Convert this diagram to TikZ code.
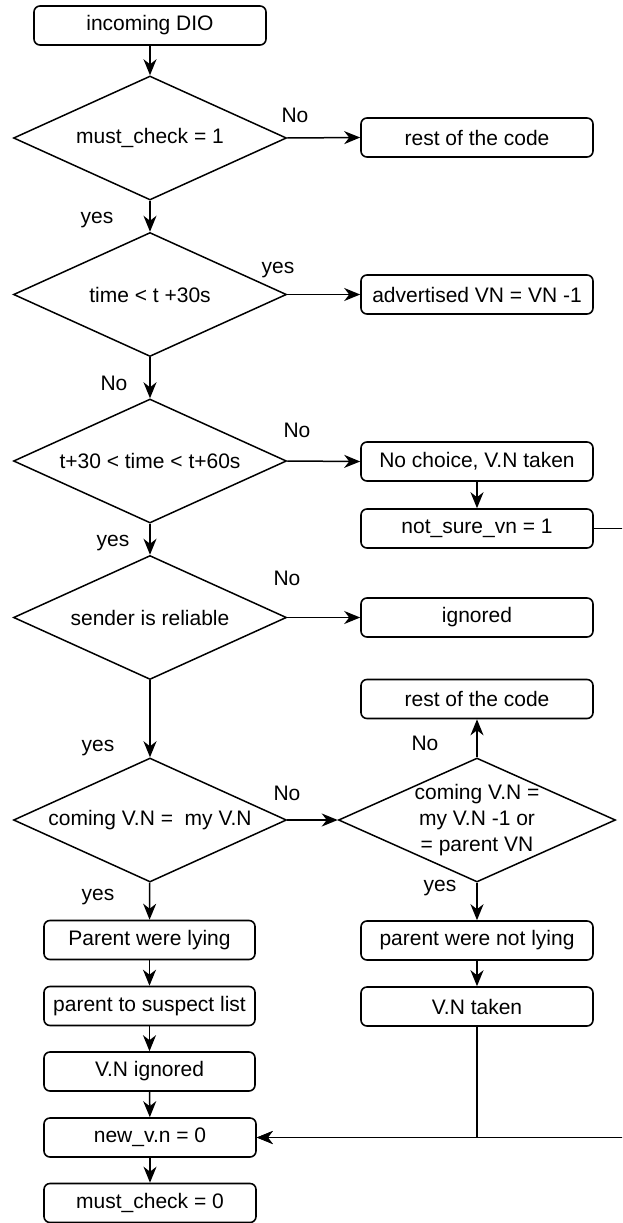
\documentclass[tikz,border=0pt]{standalone}
\usepackage{fontspec}
\setmainfont{Liberation Sans}
\usetikzlibrary{shapes.geometric,arrows.meta}
\begin{document}
\begin{tikzpicture}[x=1pt,y=-1pt,
  every node/.style={font=\fontsize{21}{26}\selectfont},
  proc/.style={draw,rectangle,rounded corners=6pt,line width=1.6pt,minimum width=232pt,minimum height=39pt,inner sep=0pt},
  procs/.style={proc,minimum width=211pt},
  dec/.style={draw,diamond,line width=1.5pt,minimum width=273pt,minimum height=124pt,inner sep=0pt,aspect=2.2},
  arr/.style={line width=1.5pt,-{Stealth[length=16pt,width=13pt,inset=5pt]}},
  lbl/.style={inner sep=0pt}]
\useasboundingbox (0,0) rectangle (622,1223);
\clip (0,0) rectangle (622,1223);

% left column
\node[proc] (dio) at (150,25.5) {incoming DIO};
\node[dec] (d1) at (150,138) {must\_check = 1};
\node[dec] (d2) at (150,294.5) {time < t +30s};
\node[dec] (d3) at (150,461) {t+30 < time < t+60s};
\node[dec] (d4) at (150,617.5) {sender is reliable};
\node[dec] (d5) at (150,820) {coming V.N = \ my V.N};
\node[procs] (lying) at (149.5,940) {Parent were lying};
\node[procs] (suspect) at (149.5,1006) {parent to suspect list};
\node[procs] (vnign) at (149.5,1071.5) {V.N ignored};
\node[procs,minimum width=212pt] (newvn) at (150,1137.5) {new\_v.n = 0};
\node[procs,minimum width=212pt] (mc0) at (150,1203) {must\_check = 0};

% right column
\node[proc] (rest1) at (477,137.5) {rest of the code};
\node[proc] (adv) at (477,294.5) {advertised VN = VN -1};
\node[proc] (choice) at (477,461.5) {No choice, V.N taken};
\node[proc] (notsure) at (477,528.5) {not\_sure\_vn = 1};
\node[proc] (ignored) at (477,617.5) {ignored};
\node[proc] (rest2) at (477,699) {rest of the code};
\node[dec,minimum width=277pt,
  label={[align=center,font=\fontsize{21}{26}\selectfont]center:coming V.N =\\my V.N -1 or\\= parent VN}] (d6) at (477,820) {};
\node[proc] (notlying) at (477,940.5) {parent were not lying};
\node[proc] (vntaken) at (477,1006.5) {V.N taken};

% branch labels
\node[lbl] (l1) at (295,115) {No};
\node[lbl] (l2) at (97,220) {yes};
\node[lbl] (l3) at (278,270) {yes};
\node[lbl] (l4) at (114,383) {No};
\node[lbl] (l5) at (297,430) {No};
\node[lbl] (l6) at (113,543) {yes};
\node[lbl] (l7) at (287,578) {No};
\node[lbl] (l8) at (98,748) {yes};
\node[lbl] (l9) at (287,793) {No};
\node[lbl] (l10) at (98,897) {yes};
\node[lbl] (l11) at (425,743) {No};
\node[lbl] (l12) at (440,888) {yes};

% main flow
\draw[arr] (dio) -- (d1);
\draw[arr] (d1) -- (d2);
\draw[arr] (d2) -- (d3);
\draw[arr] (d3) -- (d4);
\draw[arr] (d4) -- (d5);
\draw[arr] (d5) -- (lying);
\draw[arr] (lying) -- (suspect);
\draw[arr] (suspect) -- (vnign);
\draw[arr] (vnign) -- (newvn);
\draw[arr] (newvn) -- (mc0);

% side branches
\draw[arr] (d1.east) -- (rest1.west);
\draw[arr] (d2.east) -- (adv.west);
\draw[arr] (d3.east) -- (choice.west);
\draw[arr] (choice) -- (notsure);
\draw[arr] (d4.east) -- (ignored.west);
\draw[arr] (d5.east) -- (d6.west);
\draw[arr] (d6.north) -- (rest2.south);
\draw[arr] (d6.south) -- (notlying.north);
\draw[arr] (notlying) -- (vntaken);
\draw[arr] (vntaken.south) |- (newvn.east);
\draw[arr] (notsure.east) -- ++(45,0) |- (newvn.east);
\end{tikzpicture}
\end{document}
